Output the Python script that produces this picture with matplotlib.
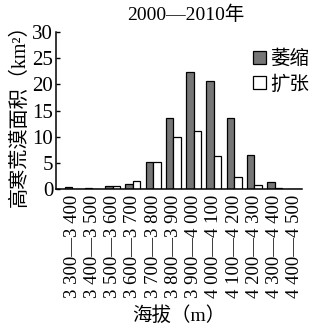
import matplotlib
matplotlib.use("Agg")
import matplotlib.pyplot as plt
import numpy as np

categories = ["3 300—3 400", "3 400—3 500", "3 500—3 600", "3 600—3 700",
              "3 700—3 800", "3 800—3 900", "3 900—4 000", "4 000—4 100",
              "4 100—4 200", "4 200—4 300", "4 300—4 400", "4 400—4 500"]
shrink = [0.4, 0.3, 0.5, 1.0, 5.2, 13.5, 22.3, 20.6, 13.6, 6.5, 1.3, 0.0]
expand = [0.0, 0.0, 0.6, 1.5, 5.2, 10.0, 11.0, 6.3, 2.3, 0.7, 0.3, 0.0]
yticks = [0, 5, 10, 15, 20, 25, 30]

fam = ["Liberation Serif", "Noto Sans CJK SC"]
plt.rcParams["font.family"] = fam

fig = plt.figure(figsize=(3.31, 3.30), dpi=100)
ax = fig.add_axes([0.169, 0.427, 0.743, 0.476])

x = np.arange(len(categories))
w = 0.37
ax.bar(x - w / 2, shrink, w, color="#767676", edgecolor="black", linewidth=0.9, label="萎缩")
ax.bar(x + w / 2, expand, w, color="white", edgecolor="black", linewidth=0.9, label="扩张")

ax.set_xlim(-0.8, 11.35)
ax.set_ylim(0, 30)
ax.set_yticks(yticks)
ax.set_xticks(x)
ax.set_xticklabels(categories, rotation=90, fontsize=13.5)
ax.tick_params(axis="y", direction="in", length=3, width=1, labelsize=15, pad=2)
ax.tick_params(axis="x", length=0, pad=4)
for s in ["top", "right"]:
    ax.spines[s].set_visible(False)
for s in ["left", "bottom"]:
    ax.spines[s].set_linewidth(1.1)

ax.set_ylabel("高寒荒漠面积（km²）", fontsize=14.5, labelpad=2)
ax.set_xlabel("海拔（m）", fontsize=14, labelpad=6)
fig.text(0.56, 0.955, "2000—2010年", ha="center", va="center", fontsize=14)

ax.legend(loc="upper right", bbox_to_anchor=(1.07, 0.95), frameon=False, fontsize=14,
          handlelength=0.7, handleheight=0.7, handletextpad=0.2, labelspacing=0.35,
          borderpad=0)

fig.savefig("out.png", dpi=100)
